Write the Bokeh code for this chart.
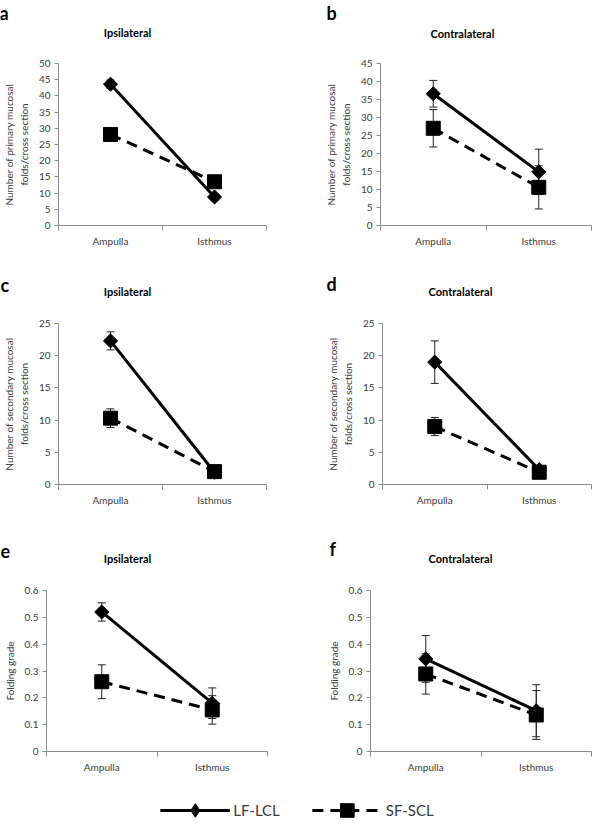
from bokeh.plotting import figure
from bokeh.models import (Range1d, FixedTicker, Whisker, TeeHead, ColumnDataSource,
                          Label, Legend, LegendItem)
from bokeh.layouts import column, row
from bokeh.embed import file_html
from bokeh.resources import INLINE

# ---------------- data ----------------
categories = ["Ampulla", "Isthmus"]
series_names = ["LF-LCL", "SF-SCL"]

a_lf = [43.6, 8.8]
a_lf_err = [1.3, 1.0]
a_sf = [28.1, 13.5]
a_sf_err = [1.0, 1.0]

b_lf = [36.6, 14.9]
b_lf_err = [3.7, 6.3]
b_sf = [27.0, 10.6]
b_sf_err = [5.2, 6.0]

c_lf = [22.3, 1.9]
c_lf_err = [1.4, 0.3]
c_sf = [10.3, 2.0]
c_sf_err = [1.45, 0.4]

d_lf = [19.0, 2.3]
d_lf_err = [3.3, 0.4]
d_sf = [9.0, 1.9]
d_sf_err = [1.4, 0.4]

e_lf = [0.52, 0.18]
e_lf_err = [0.034, 0.057]
e_sf = [0.26, 0.155]
e_sf_err = [0.063, 0.053]

f_lf = [0.345, 0.152]
f_lf_err = [0.087, 0.097]
f_sf = [0.289, 0.136]
f_sf_err = [0.075, 0.091]

panel_letters = ["a", "b", "c", "d", "e", "f"]
panel_titles = ["Ipsilateral", "Contralateral"]

ticks_primary_a = [0, 5, 10, 15, 20, 25, 30, 35, 40, 45, 50]
ticks_primary_b = [0, 5, 10, 15, 20, 25, 30, 35, 40, 45]
ticks_secondary = [0, 5, 10, 15, 20, 25]
ticks_grade = [0, 0.1, 0.2, 0.3, 0.4, 0.5, 0.6]
tick_labels_grade = ["0", "0.1", "0.2", "0.3", "0.4", "0.5", "0.6"]

label_primary = "Number of primary mucosal\nfolds/cross section"
label_secondary = "Number of secondary mucosal\nfolds/cross section"
label_grade = "Folding grade"

# ---------------- style ----------------
FONT = "Lato"
AXIS_GRAY = "#8a8a8a"
TEXT = "#3a3a3a"
DIAMOND_ANGLE = 0.7853981634
PAGE_W = 593

xs = [i + 1 for i in range(len(categories))]


def panel(ylabel, lf, lf_err, sf, sf_err, yticks, ytick_labels, geom):
    W, H, bl, br, bt, bb = geom
    ymax = yticks[-1]
    p = figure(width=W, height=H, output_backend="svg", toolbar_location=None,
               x_range=Range1d(0.5, 2.5), y_range=Range1d(0, ymax),
               min_border_left=bl, min_border_right=br,
               min_border_top=bt, min_border_bottom=bb)
    p.outline_line_color = None
    p.xgrid.visible = False
    p.ygrid.visible = False

    xa = p.xaxis[0]
    xa.ticker = FixedTicker(ticks=xs, minor_ticks=[0.5, 1.5, 2.5])
    xa.major_label_overrides = {x: c for x, c in zip(xs, categories)}
    xa.major_tick_line_color = None
    xa.minor_tick_line_color = AXIS_GRAY
    xa.minor_tick_out = 5
    xa.minor_tick_in = 0
    xa.axis_line_color = AXIS_GRAY
    xa.major_label_text_font = FONT
    xa.major_label_text_font_size = "10px"
    xa.major_label_text_color = TEXT
    xa.major_label_standoff = 3

    ya = p.yaxis[0]
    ya.ticker = FixedTicker(ticks=yticks, minor_ticks=[])
    if ytick_labels is not None:
        ya.major_label_overrides = {t: s for t, s in zip(yticks, ytick_labels)}
    ya.axis_line_color = AXIS_GRAY
    ya.major_tick_line_color = AXIS_GRAY
    ya.major_tick_out = 4
    ya.major_tick_in = 0
    ya.minor_tick_line_color = None
    ya.major_label_text_font = FONT
    ya.major_label_text_font_size = "10px"
    ya.major_label_text_color = TEXT
    ya.major_label_standoff = 4
    ya.axis_label = ylabel
    ya.axis_label_text_font = FONT
    ya.axis_label_text_font_size = "10px"
    ya.axis_label_text_font_style = "normal"
    ya.axis_label_text_color = TEXT
    ya.axis_label_standoff = 6

    for vals, errs in ((lf, lf_err), (sf, sf_err)):
        src = ColumnDataSource(dict(
            x=xs,
            upper=[v + e for v, e in zip(vals, errs)],
            lower=[v - e for v, e in zip(vals, errs)]))
        p.add_layout(Whisker(base="x", upper="upper", lower="lower", source=src,
                             line_color="#222222", line_width=1, level="underlay",
                             upper_head=TeeHead(size=8, line_color="#222222", line_width=1),
                             lower_head=TeeHead(size=8, line_color="#222222", line_width=1)))

    p.line(xs, lf, line_color="black", line_width=3)
    p.scatter(xs, lf, marker="square", angle=DIAMOND_ANGLE, size=10,
              fill_color="black", line_color="black")
    p.line(xs, sf, line_color="black", line_width=3, line_dash="11 7")
    p.scatter(xs, sf, marker="square", size=14,
              fill_color="black", line_color="black")
    return p


def header(height, letters, letter_pos, title_pos):
    """A strip holding the panel letters and titles; its data units are pixels."""
    h = figure(width=PAGE_W, height=height, output_backend="svg", toolbar_location=None,
               x_range=Range1d(0, PAGE_W), y_range=Range1d(height, 0),
               min_border_left=0, min_border_right=0, min_border_top=0, min_border_bottom=0)
    h.axis.visible = False
    h.grid.visible = False
    h.outline_line_color = None
    for txt, (x, y) in zip(letters, letter_pos):
        h.add_layout(Label(x=x, y=y, text=txt, text_font=FONT, text_font_style="bold",
                           text_font_size="18px", text_color="black",
                           text_align="left", text_baseline="middle"))
    for txt, (x, y) in zip(panel_titles, title_pos):
        h.add_layout(Label(x=x, y=y, text=txt, text_font=FONT, text_font_style="bold",
                           text_font_size="11px", text_color="black",
                           text_align="center", text_baseline="middle"))
    return h


h1 = header(52, panel_letters[0:2], [(-1, 12), (326, 12)], [(127, 32), (462, 33)])
pa = panel(label_primary, a_lf, a_lf_err, a_sf, a_sf_err, ticks_primary_a, None,
           (296, 210, 48, 30, 11, 37))
pb = panel(label_primary, b_lf, b_lf_err, b_sf, b_sf_err, ticks_primary_b, None,
           (297, 210, 84, 2, 11, 37))

h2 = header(50, panel_letters[2:4], [(0, 22), (326, 21)], [(127, 29), (460, 29)])
pc = panel(label_secondary, c_lf, c_lf_err, c_sf, c_sf_err, ticks_secondary, None,
           (296, 215, 50, 30, 11, 43))
pd_ = panel(label_secondary, d_lf, d_lf_err, d_sf, d_sf_err, ticks_secondary, None,
            (297, 215, 86, 2, 11, 43))

h3 = header(52, panel_letters[4:6], [(0, 23), (329, 21)], [(127, 31), (460, 31)])
pe = panel(label_grade, e_lf, e_lf_err, e_sf, e_sf_err, ticks_grade, tick_labels_grade,
           (296, 203, 37, 29, 11, 31))
pf = panel(label_grade, f_lf, f_lf_err, f_sf, f_sf_err, ticks_grade, tick_labels_grade,
           (297, 203, 74, 2, 11, 31))

# ---------------- legend strip ----------------
pl = figure(width=PAGE_W, height=38, output_backend="svg", toolbar_location=None,
            x_range=Range1d(-2, -1), y_range=Range1d(-2, -1),
            min_border_left=0, min_border_right=0, min_border_top=0, min_border_bottom=0)
pl.axis.visible = False
pl.grid.visible = False
pl.outline_line_color = None
# same series drawn outside the visible range, only to feed the legend glyphs
l1 = pl.line(xs, a_lf, line_color="black", line_width=3)
m1 = pl.scatter(xs, a_lf, marker="diamond", size=19,
                fill_color="black", line_color="black")
l2 = pl.line(xs, a_sf, line_color="black", line_width=3, line_dash="11 7")
m2 = pl.scatter(xs, a_sf, marker="square", size=13,
                fill_color="black", line_color="black")
legend = Legend(items=[LegendItem(label=series_names[0], renderers=[l1, m1]),
                       LegendItem(label=series_names[1], renderers=[l2, m2])],
                orientation="horizontal", location="bottom_center",
                glyph_width=70, glyph_height=34, label_standoff=4, spacing=32,
                padding=0, margin=-7, border_line_color=None,
                background_fill_alpha=0,
                label_text_font=FONT, label_text_font_size="15px",
                label_text_color=TEXT)
pl.add_layout(legend, "center")

layout = column(h1, row(pa, pb), h2, row(pc, pd_), h3, row(pe, pf), pl)

with open("out.html", "w") as fh:
    fh.write(file_html(layout, INLINE))
